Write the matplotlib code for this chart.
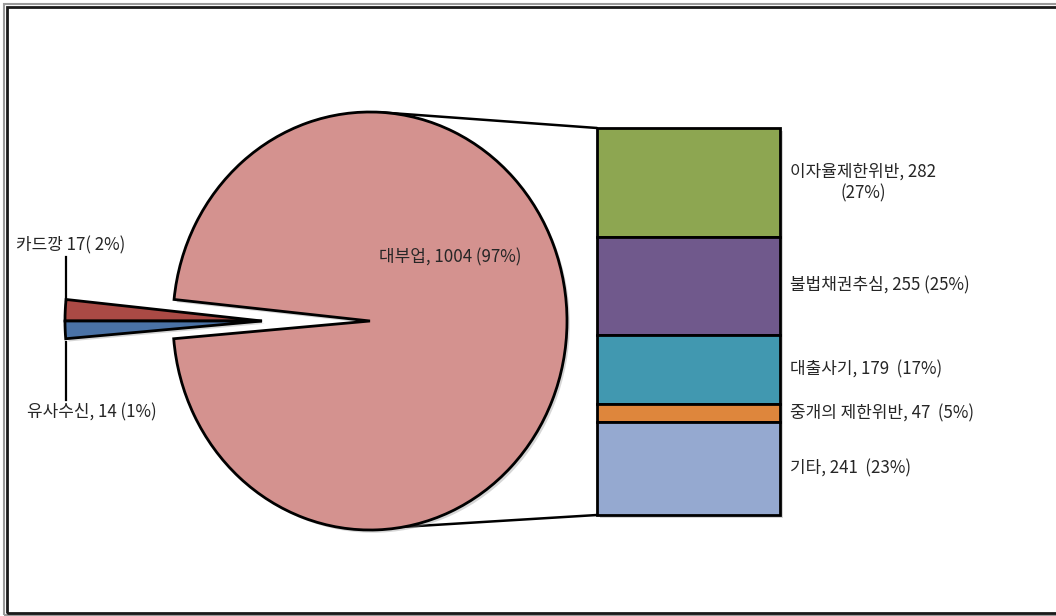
import numpy as np
import matplotlib.pyplot as plt
import matplotlib.patheffects as pe
from matplotlib.patches import Rectangle, ConnectionPatch

plt.rcParams['font.family'] = ['Noto Sans CJK KR', 'DejaVu Sans']

# pie: main categories
pie_labels = ['대부업', '카드깡', '유사수신']
pie_values = [1004, 17, 14]
pie_colors = ['#D4928F', '#AA4A45', '#4A72A6']

# bar: breakdown of 대부업
bar_labels = ['이자율제한위반', '불법채권추심', '대출사기', '중개의 제한위반', '기타']
bar_values = [282, 255, 179, 47, 241]
bar_colors = ['#8DA651', '#70598C', '#4198B0', '#DE863C', '#95A9D0']

W, H = 1056, 616
CX, CY, RX, RY = 370, 321, 197, 209
TXT = '#262626'
FS = 12.2


def px(x, y):
    # pixel position -> pie axes data units
    return (x - CX) / RX, (CY - y) / RY


fig = plt.figure(figsize=(W / 100, H / 100), dpi=100)
ax = fig.add_axes([0, 0, 1, 1])

total = sum(pie_values)
start = 180 + 360 * pie_values[2] / total
shadow = [pe.SimplePatchShadow(offset=(2, -2), shadow_rgbFace='0.55', alpha=0.35), pe.Normal()]
wedges, _ = ax.pie(pie_values, colors=pie_colors, startangle=start, counterclock=True,
                   radius=1, center=(0, 0),
                   wedgeprops=dict(edgecolor='black', linewidth=2))
for w in wedges:
    w.set_path_effects(shadow)
# pull the two small slices out to the left
for w in wedges[1:]:
    w.set_center(px(CX - 108, CY))

ax.set_aspect('auto')
ax.set_xlim(px(0, 0)[0], px(W, 0)[0])
ax.set_ylim(px(0, H)[1], px(0, 0)[1])
ax.axis('off')

pct = [round(v / total * 100) for v in pie_values]
ax.text(*px(450, 257), f'{pie_labels[0]}, {pie_values[0]} ({pct[0]}%)',
        ha='center', va='center', fontsize=FS, color=TXT)
ax.text(*px(71, 245), f'{pie_labels[1]} {pie_values[1]}( {pct[1]}%)',
        ha='center', va='center', fontsize=FS, color=TXT)
ax.text(*px(92, 412), f'{pie_labels[2]}, {pie_values[2]} ({pct[2]}%)',
        ha='center', va='center', fontsize=FS, color=TXT)

# leader lines for the small slices
x0, y0 = px(66, 257)
x1, y1 = px(66, 301)
ax.plot([x0, x1], [y0, y1], color='black', lw=1.6)
x0, y0 = px(66, 342)
x1, y1 = px(66, 400)
ax.plot([x0, x1], [y0, y1], color='black', lw=1.6)

# stacked bar, first item on top
bx = fig.add_axes([597 / W, (H - 515) / H, 183 / W, 387 / H])
bar_total = sum(bar_values)
tops = bar_total - np.cumsum([0] + bar_values[:-1])
bottoms = tops - np.array(bar_values)
bars = bx.bar(np.zeros(len(bar_values)), bar_values, bottom=bottoms, width=1,
              color=bar_colors, edgecolor='black', linewidth=2, clip_on=False)
for b in bars:
    b.set_path_effects(shadow)
bx.set_xlim(-0.5, 0.5)
bx.set_ylim(0, bar_total)
bx.axis('off')

bpct = [round(v / total * 100) for v in bar_values]
for i, (name, v, p) in enumerate(zip(bar_labels, bar_values, bpct)):
    ymid = bottoms[i] + v / 2
    if i == 0:
        s = f'{name}, {v}\n({p}%)'
    elif i == 1:
        s = f'{name}, {v} ({p}%)'
    else:
        s = f'{name}, {v}  ({p}%)'
    bx.text(1.055, ymid, s, transform=bx.get_yaxis_transform(), ha='left', va='center',
            multialignment='center', fontsize=FS, color=TXT, linespacing=1.25)

# connector lines from the pie to the bar
for ang, corner in [(87, (0, 1)), (-80, (0, 0))]:
    a = np.radians(ang)
    con = ConnectionPatch(xyA=(np.cos(a), np.sin(a)), coordsA=ax.transData,
                          xyB=corner, coordsB=bx.transAxes,
                          color='black', lw=1.8, zorder=0)
    fig.add_artist(con)

# chart area border
fig.add_artist(Rectangle((4 / W, 1 - 615 / H), 1.1, (611) / H, transform=fig.transFigure,
                         fill=False, edgecolor='#9a9a9a', lw=1.5))
fig.add_artist(Rectangle((6.5 / W, 1 - 613 / H), 1.1, (606) / H, transform=fig.transFigure,
                         fill=False, edgecolor='#1a1a1a', lw=2))

fig.savefig('out.png', dpi=100)
